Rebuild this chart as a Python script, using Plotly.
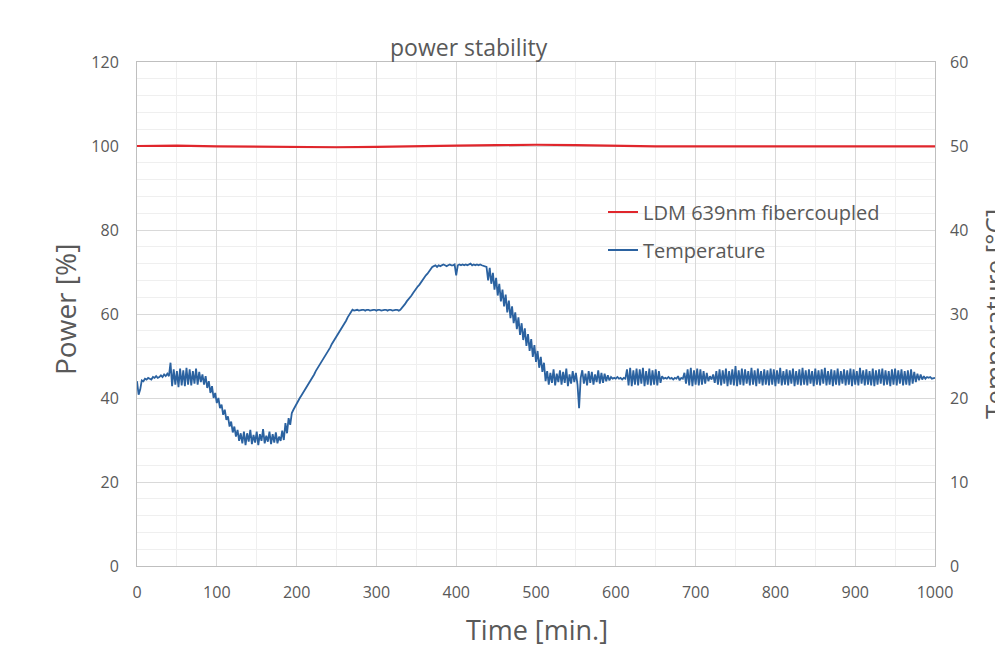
import plotly.graph_objects as go

# ---------------- data ----------------
time_min = list(range(0, 1001, 2))  # sampling grid, minutes

temperature_c = [
    # 0..38
    22.0, 20.4, 21.0, 22.1, 22.0, 22.3, 22.2, 22.4, 22.3, 22.2,
    22.5, 22.4, 22.6, 22.4, 22.5, 22.7, 22.5, 22.8, 22.6, 22.9,
    # 40..80
    22.6, 24.2, 21.4, 23.4, 21.6, 23.2, 21.3, 23.5, 21.5, 23.3,
    21.4, 23.6, 21.6, 23.4, 21.5, 23.2, 21.7, 23.5, 21.6, 23.1, 21.9,
    # 82..130
    22.8, 21.6, 22.6, 21.2, 22.0, 20.6, 21.4, 20.0, 20.6, 19.4,
    20.0, 18.8, 19.2, 18.0, 18.6, 17.4, 17.8, 16.6, 17.2, 15.9,
    16.6, 15.4, 16.2, 14.9, 15.8,
    # 132..182
    14.6, 16.0, 14.4, 15.8, 14.8, 16.2, 14.5, 15.6, 14.7, 16.0,
    14.4, 15.7, 14.9, 16.3, 14.6, 15.5, 14.8, 16.0, 14.5, 15.7,
    14.7, 15.9, 14.6, 15.4, 14.9, 16.1,
    # 184..198
    15.0, 17.0, 15.8, 17.6, 16.8, 18.2, 18.6, 19.0,
    # 200..270
    19.3, 19.6, 20.0, 20.3, 20.6, 20.9, 21.2, 21.6, 21.9, 22.2,
    22.5, 22.8, 23.2, 23.5, 23.8, 24.1, 24.4, 24.8, 25.1, 25.4,
    25.7, 26.0, 26.4, 26.7, 27.0, 27.3, 27.6, 28.0, 28.3, 28.6,
    28.9, 29.2, 29.6, 29.9, 30.2, 30.5,
    # 272..330
    30.4, 30.5, 30.5, 30.4, 30.5, 30.5, 30.5, 30.4, 30.5, 30.5,
    30.4, 30.5, 30.5, 30.5, 30.4, 30.5, 30.5, 30.4, 30.5, 30.5,
    30.5, 30.4, 30.5, 30.5, 30.4, 30.5, 30.5, 30.5, 30.4, 30.5,
    # 332..370
    30.7, 31.0, 31.2, 31.5, 31.7, 32.0, 32.2, 32.5, 32.8, 33.0,
    33.3, 33.5, 33.8, 34.0, 34.3, 34.6, 34.8, 35.1, 35.3, 35.6,
    # 372..436
    35.7, 35.8, 35.6, 35.8, 35.7, 35.8, 35.9, 35.8, 35.7, 35.8,
    35.9, 35.8, 35.8, 35.9, 34.6, 35.8, 35.9, 35.8, 35.9, 35.8,
    35.9, 35.8, 35.9, 36.0, 35.8, 35.9, 35.8, 35.9, 35.8, 35.9,
    35.8, 35.7, 35.6,
    # 438..510
    35.6, 34.0, 35.5, 33.6, 34.9, 32.9, 34.3, 32.2, 33.6, 31.5,
    32.9, 30.9, 32.3, 30.2, 31.6, 29.5, 30.9, 28.9, 30.2, 28.2,
    29.6, 27.5, 28.9, 26.9, 28.3, 26.2, 27.6, 25.6, 27.0, 24.9,
    26.3, 24.3, 25.6, 23.6, 24.9, 23.1, 24.2,
    # 512..1000
    22.0, 23.2, 21.6, 23.0, 21.8, 23.4, 21.5, 22.9, 21.9, 23.3,
    21.6, 23.1, 21.8, 23.5, 21.4, 22.8, 21.7, 23.2, 21.9, 23.0,
    21.6, 18.8, 22.4, 23.3, 21.7, 22.9, 21.5, 23.2, 21.8, 23.1,
    21.6, 22.8, 21.9, 23.3, 21.7, 23.0, 21.8, 22.9, 22.0, 22.7,
    22.1, 22.5, 22.3, 22.4, 22.3, 22.5, 22.3, 22.4, 22.2, 22.4,
    22.3, 23.4, 21.5, 23.6, 21.4, 23.3, 21.6, 23.5, 21.5, 23.4,
    21.7, 23.6, 21.4, 23.2, 21.6, 23.5, 21.5, 23.3, 21.6, 23.4,
    21.5, 23.2, 21.8, 22.6, 22.3, 22.4, 22.3, 22.5, 22.3, 22.4,
    22.2, 22.4, 22.3, 22.6, 22.1, 22.4, 22.3, 23.0, 21.7, 23.4,
    21.5, 23.6, 21.4, 23.3, 21.6, 23.5, 21.5, 23.4, 21.6, 23.2,
    21.7, 23.0, 22.0, 22.6, 22.2, 22.8, 21.8, 23.2, 21.6, 23.4,
    21.5, 23.3, 21.7, 23.5, 21.4, 23.2, 21.6, 23.4, 21.5, 23.8,
    21.4, 23.3, 21.6, 23.5, 21.5, 23.4, 21.7, 23.2, 21.5, 23.6,
    21.6, 23.3, 21.4, 23.5, 21.7, 23.2, 21.5, 23.4, 21.6, 23.3,
    21.5, 23.5, 21.6, 23.4, 21.4, 23.3, 21.7, 23.6, 21.5, 23.2,
    21.6, 23.4, 21.5, 23.3, 21.7, 23.5, 21.4, 23.2, 21.6, 23.4,
    21.5, 23.6, 21.6, 23.3, 21.5, 23.4, 21.7, 23.2, 21.4, 23.5,
    21.6, 23.3, 21.5, 23.4, 21.7, 23.6, 21.5, 23.2, 21.6, 23.4,
    21.4, 23.3, 21.6, 23.5, 21.5, 23.2, 21.7, 23.4, 21.5, 23.3,
    21.6, 23.5, 21.4, 23.4, 21.6, 23.2, 21.5, 23.6, 21.7, 23.3,
    21.5, 23.4, 21.6, 23.2, 21.5, 23.5, 21.4, 23.3, 21.6, 23.4,
    21.7, 23.5, 21.5, 23.3, 21.6, 23.2, 21.4, 23.4, 21.6, 23.5,
    21.5, 23.3, 21.7, 23.4, 21.5, 23.2, 21.6, 23.3, 21.5, 23.4,
    21.7, 23.1, 21.9, 22.9, 22.1, 22.8, 22.2, 22.6, 22.3, 22.5,
    22.4, 22.5, 22.3, 22.4, 22.4,
]

power_time = [0, 50, 100, 150, 200, 250, 300, 350, 400, 450, 500, 550, 600,
              650, 700, 750, 800, 850, 900, 950, 1000]
power_pct = [100.0, 100.1, 99.9, 99.8, 99.7, 99.7, 99.8, 100.0, 100.1, 100.2,
             100.3, 100.2, 100.0, 99.9, 99.9, 99.9, 99.9, 99.9, 99.9, 99.9, 99.9]

x_ticks = [0, 100, 200, 300, 400, 500, 600, 700, 800, 900, 1000]
y_left_ticks = [0, 20, 40, 60, 80, 100, 120]
y_right_ticks = [0, 10, 20, 30, 40, 50, 60]

power_name = "LDM 639nm fibercoupled"
temp_name = "Temperature"
title_text = "power stability"
x_title = "Time [min.]"
y_title = "Power [%]"
y2_title = "Temperature [°C]"

# ---------------- styling ----------------
FONT = "Open Sans"
GREY = "#595959"
RED = "#e0262c"
BLUE = "#2b62a0"
GRID = "#d9d9d9"
MINOR = "#efefef"

L, R, T, B = 137, 60, 62, 83
W, H = 995, 649
pw, ph = W - L - R, H - T - B


def px_x(p):
    return (p - L) / pw


def px_y(p):
    return (H - B - p) / ph


fig = go.Figure()

fig.add_trace(go.Scatter(
    x=power_time, y=power_pct, name=power_name, mode="lines",
    line=dict(color=RED, width=2.2), legend="legend",
))
fig.add_trace(go.Scatter(
    x=time_min, y=temperature_c, name=temp_name, mode="lines",
    line=dict(color=BLUE, width=1.8), yaxis="y2", legend="legend2",
))

axis_common = dict(
    showline=True, linecolor="#bfbfbf", linewidth=1,
    gridcolor=GRID, gridwidth=1, zeroline=False,
    tickfont=dict(family=FONT, size=16, color=GREY),
    ticks="", fixedrange=True,
)

fig.update_layout(
    width=W, height=H,
    margin=dict(l=L, r=R, t=T, b=B, autoexpand=False),
    paper_bgcolor="white", plot_bgcolor="white",
    font=dict(family=FONT, color=GREY),
    xaxis=dict(
        range=[0, 1000], tickvals=x_ticks, mirror=True,
        minor=dict(dtick=50, showgrid=True, gridcolor=MINOR),
        ticklabelstandoff=12,
        **axis_common,
    ),
    yaxis=dict(
        range=[0, 120], tickvals=y_left_ticks, mirror=True,
        minor=dict(dtick=4, showgrid=True, gridcolor=MINOR),
        ticklabelstandoff=14,
        **axis_common,
    ),
    yaxis2=dict(
        range=[0, 60], tickvals=y_right_ticks, overlaying="y", side="right",
        showgrid=False, showline=False, zeroline=False,
        tickfont=dict(family=FONT, size=16, color=GREY),
        ticklabelstandoff=14, fixedrange=True,
    ),
    legend=dict(
        x=px_x(603), y=px_y(212), xanchor="left", yanchor="middle",
        bgcolor="rgba(0,0,0,0)", font=dict(family=FONT, size=20, color=GREY),
    ),
    legend2=dict(
        x=px_x(603), y=px_y(250), xanchor="left", yanchor="middle",
        bgcolor="rgba(0,0,0,0)", font=dict(family=FONT, size=20, color=GREY),
    ),
    showlegend=True,
    annotations=[
        dict(text=title_text, xref="paper", yref="paper",
             x=px_x(469), y=px_y(47), xanchor="center", yanchor="middle",
             showarrow=False, font=dict(family=FONT, size=23, color=GREY)),
        dict(text=x_title, xref="paper", yref="paper",
             x=px_x(537), y=px_y(629), xanchor="center", yanchor="middle",
             showarrow=False, font=dict(family=FONT, size=27, color=GREY)),
        dict(text=y_title, xref="paper", yref="paper",
             x=px_x(65), y=px_y(310), xanchor="center", yanchor="middle",
             textangle=-90, showarrow=False,
             font=dict(family=FONT, size=28, color=GREY)),
        dict(text=y2_title, xref="paper", yref="paper",
             x=px_x(994), y=px_y(314), xanchor="center", yanchor="middle",
             textangle=-90, showarrow=False,
             font=dict(family=FONT, size=26, color=GREY)),
    ],
)

fig.write_html("out.html")
